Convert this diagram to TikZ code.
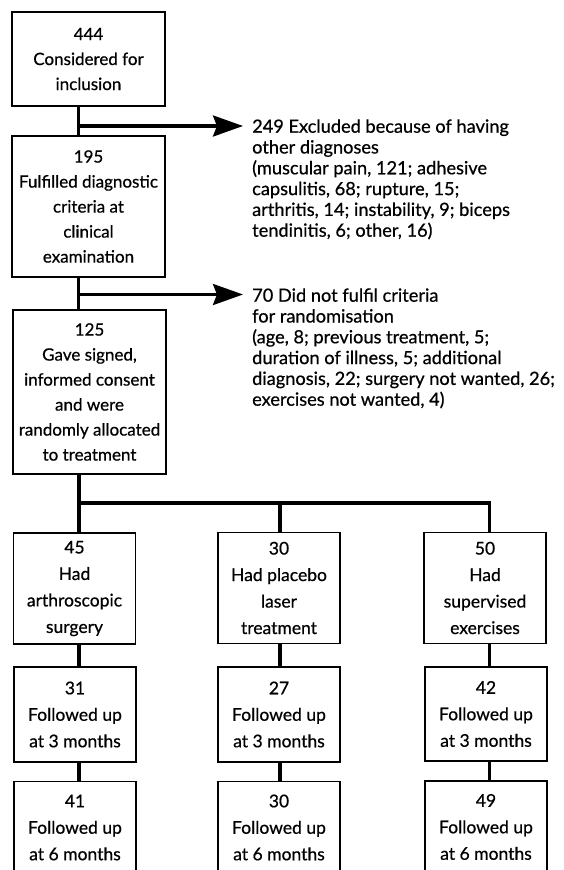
\documentclass[tikz,border=0pt]{standalone}
\usepackage{fontspec}
\setmainfont{Lato}[FakeBold=0.6]
\usetikzlibrary{arrows.meta}
\begin{document}
\begin{tikzpicture}[x=1pt,y=-1pt,
  box/.style={draw, line width=1.6pt, inner sep=0pt, align=center,
    minimum width=153pt, font=\fontsize{17}{25}\selectfont},
  rowbox/.style={draw, line width=1.6pt, inner sep=0pt, align=center,
    minimum width=122pt, font=\fontsize{17.5}{26.5}\selectfont},
  side/.style={anchor=north west, inner sep=0pt, align=left,
    font=\fontsize{18.2}{20.8}\selectfont},
  conn/.style={line width=3.2pt},
  arr/.style={line width=3.2pt, -{Stealth[length=30pt,width=21pt,inset=4pt]}}]
\useasboundingbox (0,0) rectangle (563,870);
\clip (0,0) rectangle (563,870);
\fill[white] (0,0) rectangle (563,870);

% main column
\node[box, minimum height=94pt]  (b1) at (88.5,59)   {444\\Considered for\\inclusion};
\node[box, minimum height=141pt] (b2) at (88.5,206.5) {195\\Fulfilled diagnostic\\criteria at\\clinical\\examination};
\node[box, minimum height=164pt] (b3) at (89.5,392)  {125\\Gave signed,\\informed consent\\and were\\randomly allocated\\to treatment};

% side texts
\node[side] (e1) at (252,116.5) {\rule{0pt}{16pt}249 Excluded because of having\\other diagnoses\\(muscular pain, 121; adhesive\\capsulitis, 68; rupture, 15;\\arthritis, 14; instability, 9; biceps\\tendinitis, 6; other, 16)};
\node[side] (e2) at (252,285.5) {\rule{0pt}{16pt}70 Did not fulfil criteria\\for randomisation\\(age, 8; previous treatment, 5;\\duration of illness, 5; additional\\diagnosis, 22; surgery not wanted, 26;\\exercises not wanted, 4)};

% rows
\node[rowbox, minimum height=111pt] (a1) at (74.5,588.5) {45\\Had\\arthroscopic\\surgery};
\node[rowbox, minimum height=111pt] (m1) at (279,588)    {30\\Had placebo\\laser\\treatment};
\node[rowbox, minimum height=111pt] (c1) at (485,588)    {50\\Had\\supervised\\exercises};

\node[rowbox, minimum height=95pt] (a2) at (75,714.5) {31\\Followed up\\at 3 months};
\node[rowbox, minimum height=95pt] (m2) at (279,714.5) {27\\Followed up\\at 3 months};
\node[rowbox, minimum height=94pt] (c2) at (486,714)   {42\\Followed up\\at 3 months};

\node[rowbox, minimum height=92pt] (a3) at (75,827.5) {41\\Followed up\\at 6 months};
\node[rowbox, minimum height=92pt] (m3) at (279,827.5) {30\\Followed up\\at 6 months};
\node[rowbox, minimum height=92pt] (c3) at (486,827)   {49\\Followed up\\at 6 months};

% connectors
\coordinate (j1) at (78.5,126);
\coordinate (j2) at (78.5,294.5);
\coordinate (dA) at (79,503);
\coordinate (dB) at (280,503);
\coordinate (dC) at (489.5,503);

\draw[conn] (b1.south -| j1) -- (b2.north -| j1);
\draw[conn] (b2.south -| j2) -- (b3.north -| j2);
\draw[arr, shorten >=9pt] (j1) -- (j1 -| e1.west);
\draw[arr, shorten >=9pt] (j2) -- (j2 -| e2.west);

\draw[conn] (b3.south -| dA) -- (a1.north -| dA);
\draw[conn] (dA) -- (dC) -- (c1.north -| dC);
\draw[conn] (dB) -- (m1.north -| dB);

\draw[conn] (a1.south -| dA) -- (a2.north -| dA);
\draw[conn] (m1.south -| dB) -- (m2.north -| dB);
\draw[conn] (c1.south -| dC) -- (c2.north -| dC);
\draw[conn] (a2.south -| dA) -- (a3.north -| dA);
\draw[conn] (m2.south -| dB) -- (m3.north -| dB);
\draw[conn] (c2.south -| dC) -- (c3.north -| dC);
\end{tikzpicture}
\end{document}
